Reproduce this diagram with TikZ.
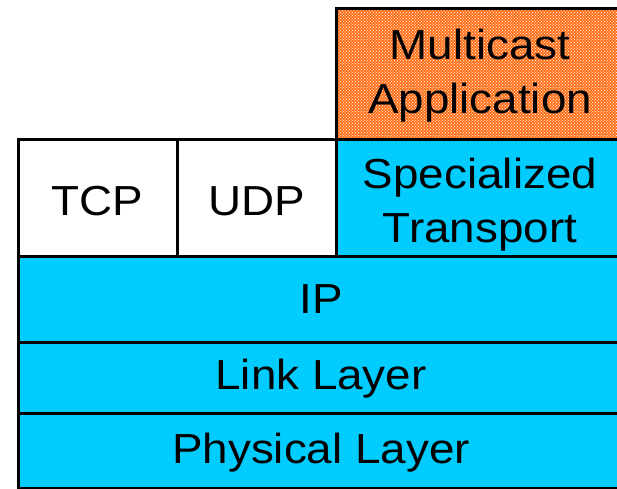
\documentclass[tikz,border=0pt]{standalone}
\usepackage{fontspec}
\setmainfont[FakeStretch=1.09]{Liberation Sans}
\usetikzlibrary{patterns}
\definecolor{layercyan}{RGB}{0,204,255}
\definecolor{apporange}{RGB}{255,110,20}
\begin{document}
\begin{tikzpicture}[x=1pt,y=-1pt,
  layer/.style={draw=black,line width=3pt,inner sep=0pt,anchor=north west,
    align=center,font=\fontsize{42}{54}\selectfont},
  cyanlayer/.style={layer,fill=layercyan},
  whitelayer/.style={layer,fill=white},
  label/.style={inner sep=0pt,align=center,font=\fontsize{42}{54}\selectfont}]
\useasboundingbox (0,0) rectangle (617,488);
\node[cyanlayer,minimum width=606pt,minimum height=75pt] (phys) at (16.5,412) {};
\node[label] (physt) at ([yshift=-2pt]phys.center) {Physical Layer};
\node[cyanlayer,minimum width=606pt,minimum height=71pt] (link) at (16.5,341) {};
\node[label] (linkt) at ([yshift=-1pt]link.center) {Link Layer};
\node[cyanlayer,minimum width=606pt,minimum height=86pt] (ip) at (16.5,255) {IP};
\node[whitelayer,minimum width=159pt,minimum height=117pt] (tcp) at (16.5,138) {};
\node[label] (tcpt) at ([yshift=-3pt]tcp.center) {TCP};
\node[whitelayer,minimum width=159pt,minimum height=117pt] (udp) at (175.5,138) {};
\node[label] (udpt) at ([yshift=-3pt]udp.center) {UDP};
\node[cyanlayer,minimum width=288pt,minimum height=117pt] (spec) at (334.5,138) {};
\node[label] (spect) at ([yshift=-7pt]spec.center) {Specialized\\Transport};
\fill[apporange] (334.5,7) rectangle (622,138);
\fill[pattern=crosshatch dots,pattern color=white] (334.5,7) rectangle (622,138);
\fill[pattern=dots,pattern color=white!70!apporange] (334.5,7) rectangle (622,138);
\node[layer,minimum width=288pt,minimum height=131pt] (app) at (334.5,7) {};
\node[label] (appt) at ([yshift=-2pt]app.center) {Multicast\\Application};
\end{tikzpicture}
\end{document}
